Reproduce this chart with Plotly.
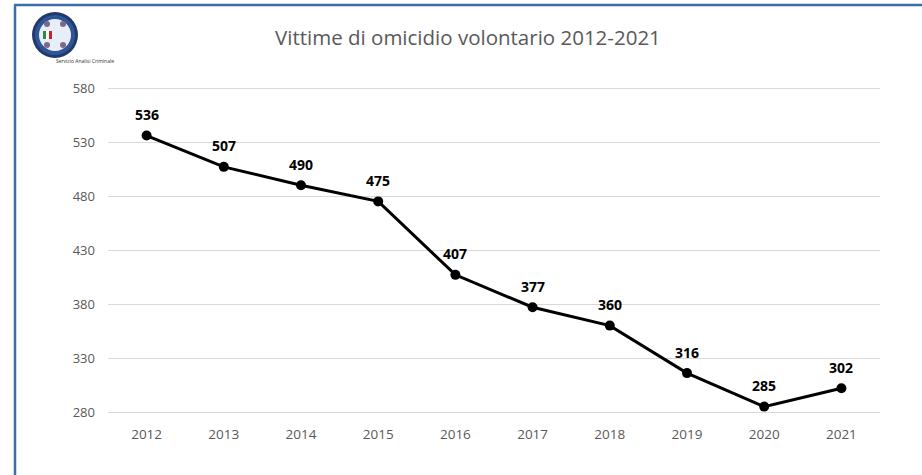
import plotly.graph_objects as go

years = [2012, 2013, 2014, 2015, 2016, 2017, 2018, 2019, 2020, 2021]
victims = [536, 507, 490, 475, 407, 377, 360, 316, 285, 302]
y_ticks = [280, 330, 380, 430, 480, 530, 580]
title_text = "Vittime di omicidio volontario 2012-2021"
logo_caption = "Servizio Analisi Criminale"

fig = go.Figure()
fig.add_trace(go.Scatter(
    x=years, y=victims, mode="lines+markers",
    line=dict(color="black", width=3),
    marker=dict(color="black", size=10),
    hoverinfo="x+y", showlegend=False,
))

for yr, v in zip(years, victims):
    fig.add_annotation(x=yr, y=v, text=f"<b>{v}</b>", showarrow=False,
                       yshift=21, font=dict(family="Open Sans", size=14, color="black"))

T, B = 84, 59
H = 475 - T - B
PX_PER_UNIT = 324 / 300
pad = (88 - T) / PX_PER_UNIT
pad_b = (63 - B) / PX_PER_UNIT


def px(xp):
    return (xp - 108) / 772


def py(yp):
    return 1 - (yp - T) / H


# title
fig.add_annotation(xref="paper", yref="paper", x=px(468), y=py(37),
                   text=title_text, showarrow=False, xanchor="center", yanchor="middle",
                   font=dict(family="Open Sans", size=20.5, color="#595959"))

# border lines
border = "#3f6ea5"
fig.add_shape(type="line", xref="paper", yref="paper",
              x0=px(14), x1=px(930), y0=py(5), y1=py(5),
              line=dict(color=border, width=2.5))
fig.add_shape(type="line", xref="paper", yref="paper",
              x0=px(15), x1=px(15), y0=py(5), y1=py(480),
              line=dict(color=border, width=2.5))

# logo
cx, cy = 55, 35
for r, col in [(23, "#1f3a6b"), (20, "#2f5597"), (16, "#e8eef7")]:
    fig.add_shape(type="circle", xref="paper", yref="paper",
                  x0=px(cx - r), x1=px(cx + r), y0=py(cy + r), y1=py(cy - r),
                  line=dict(width=0), fillcolor=col)
fig.add_shape(type="rect", xref="paper", yref="paper",
              x0=px(43), x1=px(46), y0=py(39), y1=py(31), line=dict(width=0), fillcolor="#2e8b3a")
fig.add_shape(type="rect", xref="paper", yref="paper",
              x0=px(46), x1=px(49), y0=py(39), y1=py(31), line=dict(width=0), fillcolor="#ffffff")
fig.add_shape(type="rect", xref="paper", yref="paper",
              x0=px(49), x1=px(52), y0=py(39), y1=py(31), line=dict(width=0), fillcolor="#c8202f")
for (ex, ey) in [(47, 24), (63, 24), (47, 45), (63, 45)]:
    fig.add_shape(type="circle", xref="paper", yref="paper",
                  x0=px(ex - 3), x1=px(ex + 3), y0=py(ey + 3), y1=py(ey - 3),
                  line=dict(width=0), fillcolor="#7a6a8a")
fig.add_annotation(xref="paper", yref="paper", x=px(54), y=py(61), text=logo_caption,
                   showarrow=False, yanchor="middle",
                   font=dict(family="Open Sans", size=5, color="#333333"))

fig.update_layout(
    width=922, height=475,
    margin=dict(l=108, r=42, t=T, b=B),
    paper_bgcolor="white", plot_bgcolor="white",
    font=dict(family="Open Sans", color="#595959"),
    xaxis=dict(range=[2011.5, 2021.5], tickvals=years, showgrid=False, showline=False,
               zeroline=False, ticks="", tickfont=dict(size=13.5, color="#595959"),
               ticklabelstandoff=8),
    yaxis=dict(range=[280 - pad_b, 580 + pad], tickvals=y_ticks, showgrid=True,
               gridcolor="#d9d9d9", gridwidth=1, zeroline=False, showline=False, ticks="",
               tickfont=dict(size=13, color="#595959"), ticklabelstandoff=12),
)

fig.write_html("out.html", config={"displayModeBar": False},
               post_script="document.body.style.margin='0';")
